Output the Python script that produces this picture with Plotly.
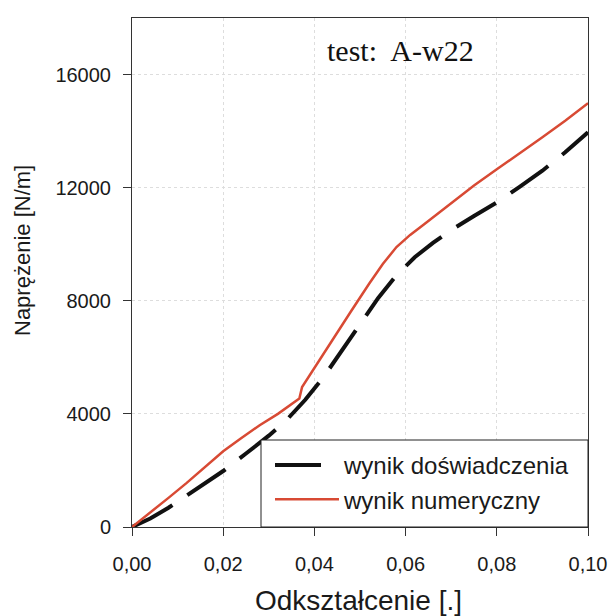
import plotly.graph_objects as go

# Strain [-] and stress [N/m] for test A-w22
strain_experiment = [0, 0.004, 0.008, 0.012, 0.016, 0.020, 0.025, 0.030, 0.034, 0.038,
                     0.042, 0.046, 0.050, 0.054, 0.058, 0.062, 0.066, 0.070, 0.075,
                     0.080, 0.085, 0.090, 0.095, 0.100]
stress_experiment = [0, 300, 680, 1100, 1530, 1980, 2600, 3230, 3800, 4500,
                     5300, 6250, 7200, 8100, 8900, 9540, 10050, 10500, 11000,
                     11480, 12030, 12600, 13250, 13960]

strain_numeric = [0, 0.004, 0.008, 0.012, 0.016, 0.020, 0.024, 0.028, 0.032, 0.0355,
                  0.0367, 0.0373, 0.040, 0.044, 0.048, 0.052, 0.055, 0.058, 0.061,
                  0.064, 0.067, 0.070, 0.075, 0.080, 0.085, 0.090, 0.095, 0.100]
stress_numeric = [0, 500, 1030, 1560, 2110, 2680, 3150, 3600, 4000, 4380,
                  4540, 4950, 5630, 6620, 7620, 8600, 9300, 9900, 10330,
                  10700, 11080, 11450, 12080, 12650, 13200, 13780, 14370, 14990]

x_ticks = [0, 0.02, 0.04, 0.06, 0.08, 0.10]
x_tick_labels = ["0,00", "0,02", "0,04", "0,06", "0,08", "0,10"]
y_ticks = [0, 4000, 8000, 12000, 16000]
y_tick_labels = ["0", "4000", "8000", "12000", "16000"]

label_experiment = "wynik doświadczenia"
label_numeric = "wynik numeryczny"
title_text = "test:  A-w22"
x_title = "Odkształcenie [.]"
y_title = "Naprężenie [N/m]"

SANS = "Liberation Sans, Arial, sans-serif"
SERIF = "Liberation Serif, Times New Roman, serif"

# plot area in pixels
L, R, T, B = 132, 23, 18, 89
W, H = 611, 616
PW, PH = W - L - R, H - T - B


def px_x(px):
    return (px - L) / PW


def px_y(py):
    return (H - B - py) / PH


fig = go.Figure()
fig.add_trace(go.Scatter(
    x=strain_experiment, y=stress_experiment, mode="lines", name=label_experiment,
    line=dict(color="#111111", width=4, dash="46px,18px"),
))
fig.add_trace(go.Scatter(
    x=strain_numeric, y=stress_numeric, mode="lines", name=label_numeric,
    line=dict(color="#d84a34", width=2.5),
))

axis_common = dict(
    automargin=False,
    showline=True, linecolor="#333333", linewidth=1, mirror=True,
    ticks="outside", ticklen=8, tickcolor="#333333",
    showgrid=True, gridcolor="#dddddd", griddash="dot", gridwidth=1,
    zeroline=False,
    tickfont=dict(family=SANS, size=20, color="#1a1a1a"),
)

fig.update_xaxes(range=[0, 0.1], tickvals=x_ticks, ticktext=x_tick_labels,
                 ticklabelstandoff=11, **axis_common)
fig.update_yaxes(range=[0, 18000], tickvals=y_ticks, ticktext=y_tick_labels,
                 ticklabelstandoff=8, **axis_common)

# Legend frame
fig.add_shape(
    type="rect", xref="paper", yref="paper",
    x0=px_x(261), x1=1, y0=0, y1=px_y(440),
    fillcolor="white", line=dict(color="#222222", width=1), layer="above",
)

fig.add_annotation(
    text=title_text, xref="paper", yref="paper", x=px_x(400), y=px_y(50),
    xanchor="center", yanchor="middle", showarrow=False,
    font=dict(family=SERIF, size=30, color="#111111"),
)
fig.add_annotation(
    text=x_title, xref="paper", yref="paper", x=px_x(358), y=px_y(600),
    xanchor="center", yanchor="middle", showarrow=False,
    font=dict(family=SANS, size=28, color="#1a1a1a"),
)
fig.add_annotation(
    text=y_title, xref="paper", yref="paper", x=px_x(23), y=px_y(251),
    xanchor="center", yanchor="middle", textangle=-90, showarrow=False,
    font=dict(family=SANS, size=22, color="#1a1a1a"),
)

fig.update_layout(
    width=W, height=H,
    margin=dict(l=L, r=R, t=T, b=B),
    paper_bgcolor="white", plot_bgcolor="white",
    showlegend=True,
    legend=dict(
        x=px_x(270), y=px_y(443), xanchor="left", yanchor="top",
        bgcolor="rgba(0,0,0,0)", borderwidth=0,
        font=dict(family=SANS, size=24, color="#1a1a1a"),
        itemwidth=64, tracegroupgap=0,
    ),
)

fig.write_html("out.html")
